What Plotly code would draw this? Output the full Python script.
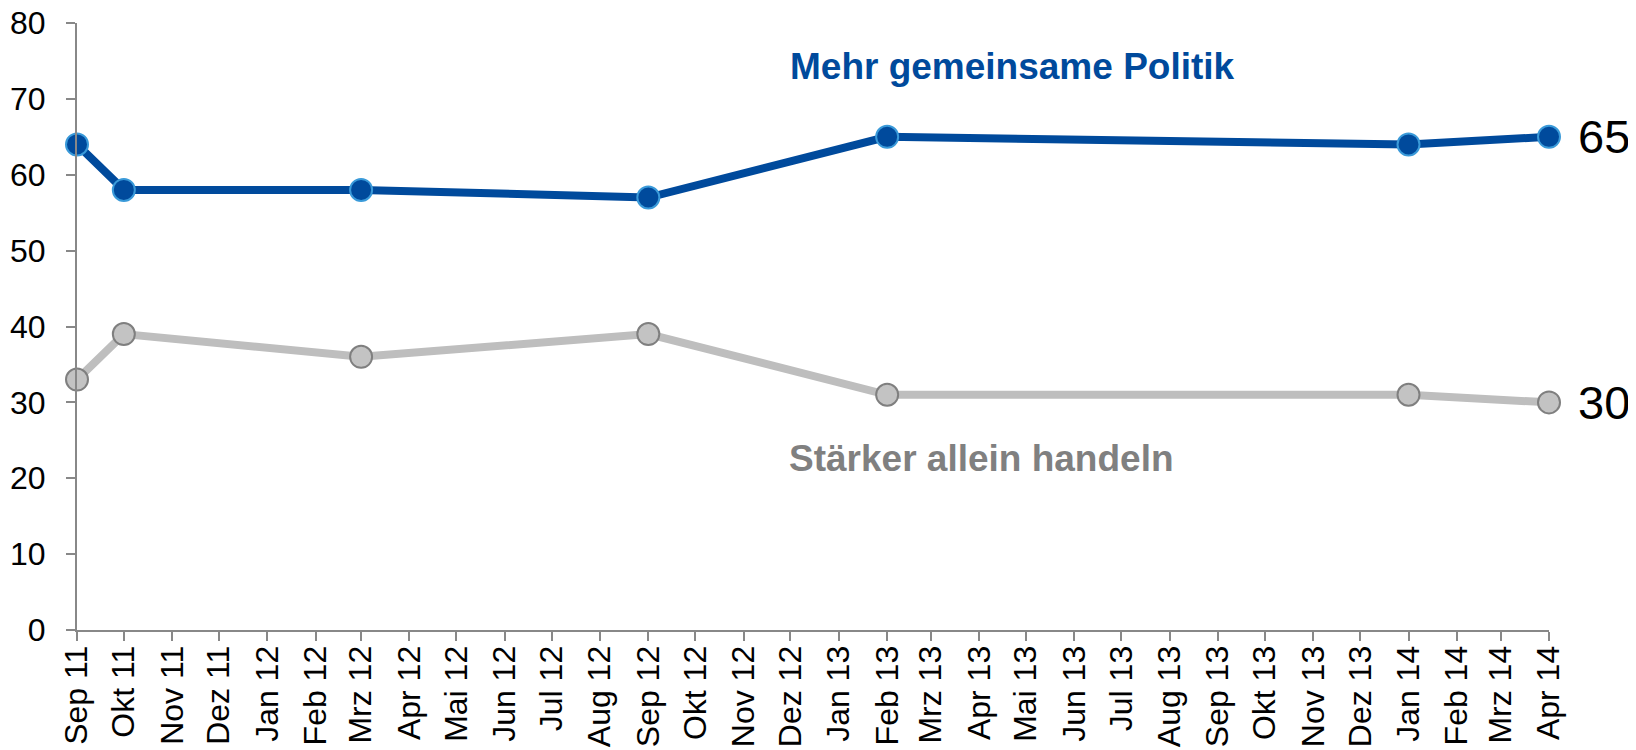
import plotly.graph_objects as go

# Survey dates (first of month) and values
dates = ["2011-09-01", "2011-10-01", "2012-03-01", "2012-09-01",
         "2013-02-01", "2014-01-01", "2014-04-01"]
mehr_gemeinsam = [64, 58, 58, 57, 65, 64, 65]
staerker_allein = [33, 39, 36, 39, 31, 31, 30]

# Monthly tick positions and German labels
tick_dates = ["2011-09-01", "2011-10-01", "2011-11-01", "2011-12-01",
              "2012-01-01", "2012-02-01", "2012-03-01", "2012-04-01",
              "2012-05-01", "2012-06-01", "2012-07-01", "2012-08-01",
              "2012-09-01", "2012-10-01", "2012-11-01", "2012-12-01",
              "2013-01-01", "2013-02-01", "2013-03-01", "2013-04-01",
              "2013-05-01", "2013-06-01", "2013-07-01", "2013-08-01",
              "2013-09-01", "2013-10-01", "2013-11-01", "2013-12-01",
              "2014-01-01", "2014-02-01", "2014-03-01", "2014-04-01"]
tick_labels = ["Sep 11", "Okt 11", "Nov 11", "Dez 11",
               "Jan 12", "Feb 12", "Mrz 12", "Apr 12",
               "Mai 12", "Jun 12", "Jul 12", "Aug 12",
               "Sep 12", "Okt 12", "Nov 12", "Dez 12",
               "Jan 13", "Feb 13", "Mrz 13", "Apr 13",
               "Mai 13", "Jun 13", "Jul 13", "Aug 13",
               "Sep 13", "Okt 13", "Nov 13", "Dez 13",
               "Jan 14", "Feb 14", "Mrz 14", "Apr 14"]
y_ticks = [0, 10, 20, 30, 40, 50, 60, 70, 80]

FONT = "Liberation Sans, Arial, sans-serif"
BLUE = "#004A9C"
GRAY_LINE = "#BEBEBE"

fig = go.Figure()
fig.add_trace(go.Scatter(
    x=dates, y=staerker_allein, mode="lines+markers",
    line=dict(color=GRAY_LINE, width=8),
    marker=dict(size=22, color="#C3C3C3", line=dict(color="#7F7F7F", width=2)),
    cliponaxis=False, showlegend=False, name="Stärker allein handeln"))
fig.add_trace(go.Scatter(
    x=dates, y=mehr_gemeinsam, mode="lines+markers",
    line=dict(color=BLUE, width=8),
    marker=dict(size=22, color=BLUE, line=dict(color="#3A9AD9", width=2)),
    cliponaxis=False, showlegend=False, name="Mehr gemeinsame Politik"))

# End value labels
fig.add_annotation(x=dates[-1], y=mehr_gemeinsam[-1], text=str(mehr_gemeinsam[-1]),
                   showarrow=False, xanchor="left", xshift=27,
                   font=dict(family=FONT, size=47, color="black"))
fig.add_annotation(x=dates[-1], y=staerker_allein[-1], text=str(staerker_allein[-1]),
                   showarrow=False, xanchor="left", xshift=27,
                   font=dict(family=FONT, size=47, color="black"))

# Series labels
fig.add_annotation(xref="paper", x=0.6353, y=74.3, text="<b>Mehr gemeinsame Politik</b>",
                   showarrow=False, xanchor="center", yanchor="middle",
                   font=dict(family=FONT, size=37, color=BLUE))
fig.add_annotation(xref="paper", x=0.6145, y=22.6, text="<b>Stärker allein handeln</b>",
                   showarrow=False, xanchor="center", yanchor="middle",
                   font=dict(family=FONT, size=37, color="#808080"))

# The page body has an 8px default margin, so the figure is sized to fit.
fig.update_layout(
    width=1628, height=742,
    margin=dict(l=69, r=87, t=15, b=120),
    paper_bgcolor="white", plot_bgcolor="white",
    font=dict(family=FONT, color="black"),
)
fig.update_xaxes(
    type="date", range=["2011-09-01", "2014-04-01"],
    tickmode="array", tickvals=tick_dates, ticktext=tick_labels,
    tickangle=-90, tickfont=dict(family=FONT, size=32, color="black"),
    showgrid=False, zeroline=False, automargin=False,
    showline=True, linecolor="#888888", linewidth=2,
    ticks="outside", ticklen=9, tickwidth=2, tickcolor="#888888",
    ticklabelstandoff=-8, ticklabeloverflow="allow",
)
fig.update_yaxes(
    range=[0, 80], tickmode="array", tickvals=y_ticks,
    tickfont=dict(family=FONT, size=32, color="black"),
    showgrid=False, zeroline=False, automargin=False,
    showline=True, linecolor="#888888", linewidth=2,
    ticks="outside", ticklen=9, tickwidth=2, tickcolor="#888888",
    ticklabelstandoff=14, ticklabeloverflow="allow",
)

fig.write_html("out.html")
